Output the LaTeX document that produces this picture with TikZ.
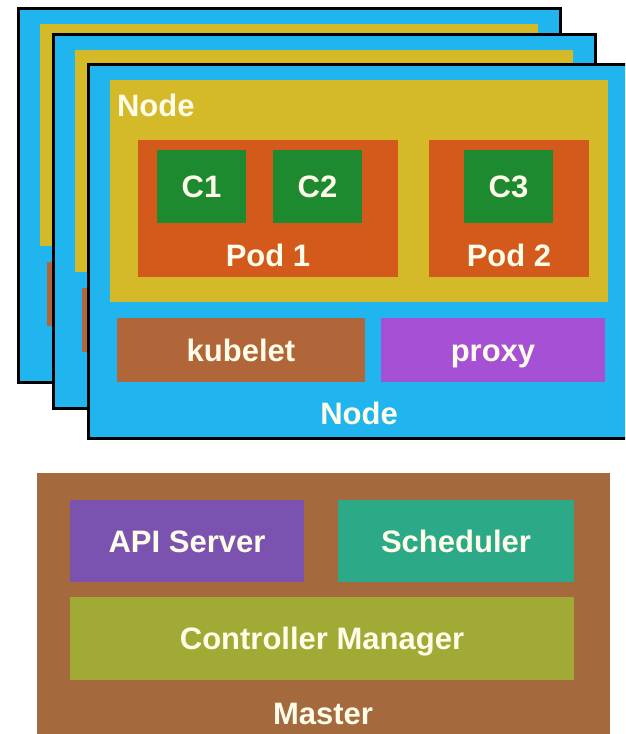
\documentclass[tikz,border=0pt]{standalone}
\usepackage{fontspec}
\setmainfont{Liberation Sans}
\usepackage{tikz}

\definecolor{nodeblue}{RGB}{32,181,238}
\definecolor{nodeyellow}{RGB}{212,185,40}
\definecolor{podorange}{RGB}{211,90,26}
\definecolor{ctgreen}{RGB}{30,138,48}
\definecolor{kubebrown}{RGB}{176,102,56}
\definecolor{proxypurple}{RGB}{166,80,214}
\definecolor{masterbrown}{RGB}{164,106,62}
\definecolor{apipurple}{RGB}{124,82,176}
\definecolor{schedteal}{RGB}{44,170,136}
\definecolor{ctrlolive}{RGB}{160,170,52}
\definecolor{labeltext}{RGB}{255,252,234}

\tikzset{
  lbl/.style={inner sep=0pt, outer sep=0pt, text=labeltext,
    font=\fontsize{31}{37}\selectfont\bfseries, text height=22pt, text depth=0pt},
  box/.style={lbl, anchor=north west},
  card/.style={box, fill=nodeblue, draw=black, line width=3pt,
    minimum width=542pt, minimum height=374pt},
}

\begin{document}
\begin{tikzpicture}[x=1pt, y=-1pt]
  \useasboundingbox (0,0) rectangle (625,734);
  \clip (0,0) rectangle (625,734);

  % the two cards behind
  \foreach \dx/\dy/\k in {-70/-56/1, -35/-30/2} {
    \begin{scope}[shift={(\dx,\dy)}]
      \node[card] (card\k) at (88,64) {};
      \node[box, fill=nodeyellow, minimum width=498pt, minimum height=222pt] (yellow\k) at (110,80) {};
      \node[box, fill=kubebrown, minimum width=248pt, minimum height=64pt] (kubelet\k) at (117,318) {};
    \end{scope}
  }

  % front node
  \node[card] (card) at (88,64) {};
  \node[box, fill=nodeyellow, minimum width=498pt, minimum height=222pt] (yellow) at (110,80) {};
  \node[lbl, anchor=west] (nodetop) at (117,105) {Node};

  \node[box, fill=podorange, minimum width=260pt, minimum height=137pt] (pod1) at (138,140) {};
  \node[box, fill=ctgreen, minimum width=89pt, minimum height=73pt] (c1) at (157,150) {C1};
  \node[box, fill=ctgreen, minimum width=89pt, minimum height=73pt] (c2) at (273,150) {C2};
  \node[lbl] (pod1lbl) at (268,255) {Pod 1};

  \node[box, fill=podorange, minimum width=160pt, minimum height=137pt] (pod2) at (429,140) {};
  \node[box, fill=ctgreen, minimum width=89pt, minimum height=73pt] (c3) at (464,150) {C3};
  \node[lbl] (pod2lbl) at (509,255) {Pod 2};

  \node[box, fill=kubebrown, minimum width=248pt, minimum height=64pt] (kubelet) at (117,318) {kubelet};
  \node[box, fill=proxypurple, minimum width=224pt, minimum height=64pt] (proxy) at (381,318) {proxy};
  \node[lbl] (nodebot) at (359,413) {Node};

  % master
  \node[box, fill=masterbrown, minimum width=573pt, minimum height=300pt] (master) at (37,473) {};
  \node[box, fill=apipurple, minimum width=234pt, minimum height=82pt] (api) at (70,500) {API Server};
  \node[box, fill=schedteal, minimum width=236pt, minimum height=82pt] (sched) at (338,500) {Scheduler};
  \node[box, fill=ctrlolive, minimum width=504pt, minimum height=83pt] (ctrl) at (70,597) {Controller Manager};
  \node[lbl] (masterlbl) at (323,713) {Master};
\end{tikzpicture}
\end{document}
